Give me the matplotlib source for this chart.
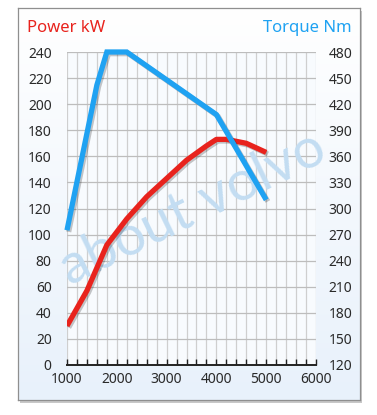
import numpy as np
import matplotlib.pyplot as plt
import matplotlib.patheffects as pe
from matplotlib.colors import LinearSegmentedColormap

# engine curves
rpm_power = [1000, 1400, 1800, 2200, 2600, 3000, 3400, 3800, 4000, 4200, 4600, 5000]
power_kw = [30, 57, 92, 112, 129, 143, 157, 168, 173, 173, 170, 163]

rpm_torque = [1000, 1600, 1800, 2200, 4000, 5000]
torque_nm = [275, 442, 480, 480, 408, 310]

x_ticks = [1000, 2000, 3000, 4000, 5000, 6000]
power_ticks = list(range(0, 241, 20))
torque_ticks = list(range(120, 481, 30))

RED = "#e8231d"
BLUE = "#1fa2f2"
W, H = 377, 415

plt.rcParams["font.family"] = ["Noto Sans", "DejaVu Sans"]
fig = plt.figure(figsize=(W / 100, H / 100), dpi=100)

# framed card with shadow and soft blue gradient
fx0, fy0, fx1, fy1 = 18, 8, 360, 400
sh = fig.add_axes([(fx0 + 2) / W, 1 - (fy1 + 3) / H, (fx1 - fx0) / W, (fy1 - fy0) / H], zorder=0)
sh.set_facecolor("#c8c8c8")
sh.set_xticks([])
sh.set_yticks([])
for s in sh.spines.values():
    s.set_visible(False)

bg = fig.add_axes([fx0 / W, 1 - fy1 / H, (fx1 - fx0) / W, (fy1 - fy0) / H], zorder=1)
grad = np.linspace(0, 1, 256)[:, None]
cmap = LinearSegmentedColormap.from_list("card", ["#ffffff", "#e8f1fb"])
bg.imshow(grad, aspect="auto", cmap=cmap, extent=[0, 1, 0, 1], origin="upper")
bg.set_xticks([])
bg.set_yticks([])
for s in bg.spines.values():
    s.set_color("#8f8f8f")
    s.set_linewidth(0.9)

# plot area
px0, py0, px1, py1 = 67, 52, 316, 365
ax = fig.add_axes([px0 / W, 1 - py1 / H, (px1 - px0) / W, (py1 - py0) / H], zorder=2)
ax.set_facecolor("#f8fbfe")
ax.set_xlim(1000, 6000)
ax.set_ylim(0, 240)
ax.set_xticks(x_ticks)
ax.set_xticks(np.arange(1000, 6001, 200), minor=True)
ax.set_yticks(power_ticks)
for v in np.arange(1000, 6001, 200):
    ax.axvline(v, color="#cfcfcf", lw=0.9, zorder=0)
for v in power_ticks:
    ax.axhline(v, color="#bdbdbd", lw=0.9, zorder=0)
for side in ["left", "right", "top"]:
    ax.spines[side].set_visible(False)
ax.spines["bottom"].set_color("#222222")
ax.spines["bottom"].set_linewidth(1.4)
ax.spines["bottom"].set_zorder(5)
ax.tick_params(axis="x", which="both", direction="in", length=4, width=1, color="#222222",
               labelsize=10, labelcolor="#2a2a2a", pad=5)
ax.tick_params(axis="y", length=0, labelsize=10, labelcolor="#2a2a2a", pad=11)

ax2 = ax.twinx()
ax2.set_zorder(3)
ax2.patch.set_visible(False)
ax2.set_ylim(120, 480)
ax2.set_yticks(torque_ticks)
for s in ax2.spines.values():
    s.set_visible(False)
ax2.tick_params(axis="y", length=0, labelsize=10, labelcolor="#2a2a2a", pad=9)

# watermark
ax2.text(0.505, 0.5, "about volvo", transform=ax2.transAxes, fontsize=40, color="#c3ddf2",
         rotation=26, ha="center", va="center", family="Lato", zorder=1)

shadow = [pe.SimpleLineShadow(offset=(1.2, -1.2), alpha=0.22, shadow_color="black"), pe.Normal()]
ax2.plot(rpm_torque, torque_nm, color=BLUE, lw=3.8, solid_joinstyle="miter",
         solid_capstyle="butt", zorder=4, clip_on=False, path_effects=shadow)
ax2.plot(rpm_power, [120 + 1.5 * p for p in power_kw], color=RED, lw=3.8,
         solid_capstyle="butt", zorder=3, path_effects=shadow)

fig.text(27 / W, 1 - 28 / H, "Power kW", color=RED, fontsize=12, fontweight="semibold",
         ha="left", va="center")
fig.text(352 / W, 1 - 28 / H, "Torque Nm", color=BLUE, fontsize=12, fontweight="semibold",
         ha="right", va="center")

fig.savefig("out.png", dpi=100)
